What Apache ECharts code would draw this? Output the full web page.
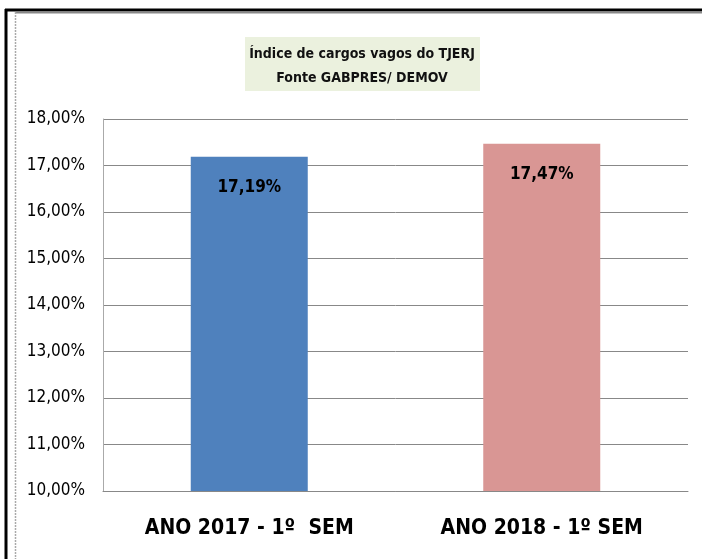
<!DOCTYPE html>
<html>
<head>
<meta charset="utf-8">
<script src="https://cdn.jsdelivr.net/npm/echarts@6/dist/echarts.min.js"></script>
<style>
  html, body { margin: 0; padding: 0; background: #fff; }
  #chart { width: 702px; height: 559px; }
</style>
</head>
<body>
<div id="chart"></div>
<script>
var categories = ['ANO 2017 - 1º  SEM', 'ANO 2018 - 1º SEM'];
var values = [17.19, 17.47];
var barColors = ['#4F81BD', '#D99694'];
var titleLines = ['Índice de cargos vagos do TJERJ', 'Fonte GABPRES/ DEMOV'];

var font = '"Liberation Sans Narrow", "DejaVu Sans Condensed", "Noto Sans", sans-serif';

function pct(v) {
    return Number(v).toFixed(2).replace('.', ',') + '%';
}

var chart = echarts.init(document.getElementById('chart'));
chart.setOption({
    backgroundColor: '#fff',
    animation: false,
    grid: { left: 103, right: 14, top: 119, bottom: 68 },
    graphic: [
        // outer black frame
        { type: 'line', shape: { x1: 5, y1: 10, x2: 702, y2: 10 }, style: { stroke: '#000', lineWidth: 3 } },
        { type: 'line', shape: { x1: 6, y1: 9, x2: 6, y2: 559 }, style: { stroke: '#000', lineWidth: 3 } },
        // inner gray frame
        { type: 'line', shape: { x1: 15, y1: 12.5, x2: 702, y2: 12.5 }, style: { stroke: '#888', lineWidth: 2 } },
        { type: 'line', shape: { x1: 15.5, y1: 12, x2: 15.5, y2: 559 }, style: { stroke: '#aaa', lineWidth: 1.5, lineDash: [2, 1] } },
        // title box
        {
            type: 'rect', shape: { x: 245, y: 37, width: 235, height: 54 },
            style: { fill: '#EBF1DE' }
        },
        {
            type: 'text', x: 362, y: 66,
            style: {
                text: titleLines.join('\n'), fill: '#111',
                font: '600 14px ' + font, align: 'center', verticalAlign: 'middle',
                lineHeight: 24
            }
        }
    ],
    xAxis: {
        type: 'category',
        data: categories,
        axisLine: { lineStyle: { color: '#888' } },
        axisTick: { show: false },
        axisLabel: {
            color: '#000', fontFamily: font, fontWeight: 'bold', fontSize: 21,
            margin: 27
        }
    },
    yAxis: {
        type: 'value',
        min: 10, max: 18, interval: 1,
        axisLine: { show: true, lineStyle: { color: '#aaa' } },
        axisTick: { show: false },
        splitLine: { lineStyle: { color: '#888' } },
        axisLabel: {
            color: '#000', fontFamily: font, fontSize: 17, margin: 18,
            formatter: pct
        }
    },
    series: [{
        type: 'bar',
        barWidth: '40%',
        data: values.map(function (v, i) {
            return { value: v, itemStyle: { color: barColors[i] } };
        }),
        label: {
            show: true, position: 'insideTop', distance: 22,
            color: '#000', fontFamily: font, fontWeight: 'bold', fontSize: 17,
            formatter: function (p) { return pct(p.value); }
        }
    }]
});
</script>
</body>
</html>
